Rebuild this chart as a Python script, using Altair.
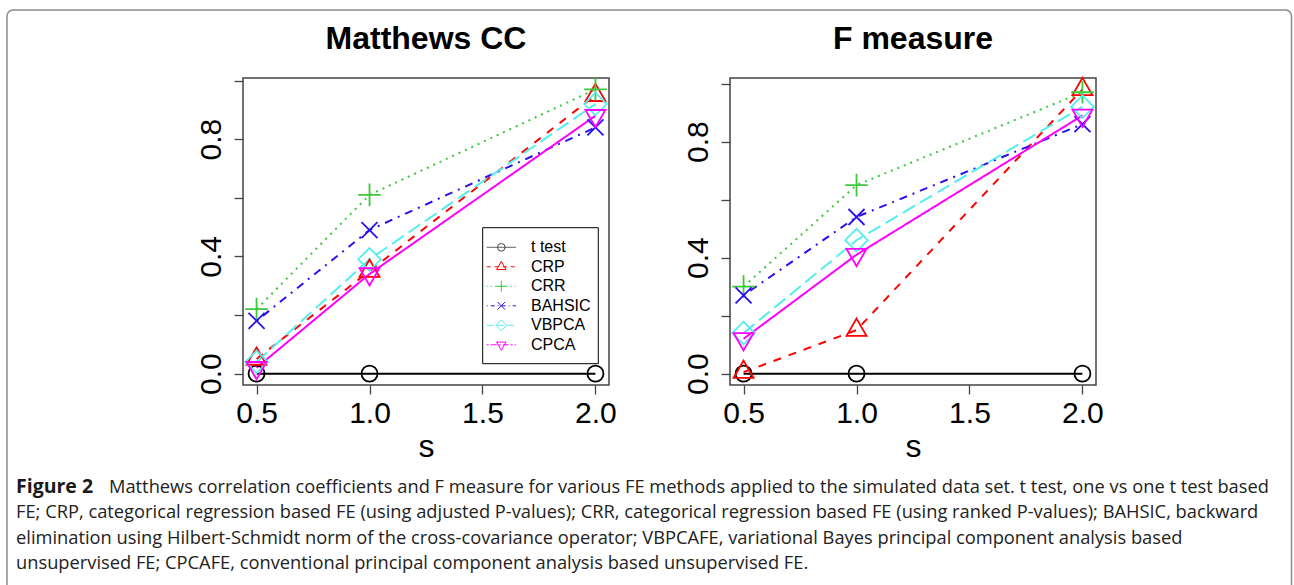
import altair as alt
import pandas as pd

# ---------------- data ----------------
s_vals = [0.5, 1.0, 2.0]
series = ["t test", "CRP", "CRR", "BAHSIC", "VBPCA", "CPCA"]

# Matthews CC panel
mcc_ttest = [0.0, 0.0, 0.0]
mcc_crp = [0.05, 0.35, 0.95]
mcc_crr = [0.22, 0.61, 0.97]
mcc_bahsic = [0.18, 0.49, 0.84]
mcc_vbpca = [0.04, 0.39, 0.92]
mcc_cpca = [0.02, 0.34, 0.88]

# F measure panel
fm_ttest = [0.0, 0.0, 0.0]
fm_crp = [0.005, 0.15, 0.98]
fm_crr = [0.30, 0.65, 0.97]
fm_bahsic = [0.27, 0.54, 0.86]
fm_vbpca = [0.14, 0.46, 0.92]
fm_cpca = [0.12, 0.41, 0.89]

y_ticks = [0.0, 0.2, 0.4, 0.6, 0.8, 1.0]
x_ticks = [0.5, 1.0, 1.5, 2.0]

caption_bold = "Figure 2"
caption_lines = [
    "Matthews correlation coefficients and F measure for various FE methods applied to the simulated data set. t test, one vs one t test based",
    "FE; CRP, categorical regression based FE (using adjusted P-values); CRR, categorical regression based FE (using ranked P-values); BAHSIC, backward",
    "elimination using Hilbert-Schmidt norm of the cross-covariance operator; VBPCAFE, variational Bayes principal component analysis based",
    "unsupervised FE; CPCAFE, conventional principal component analysis based unsupervised FE.",
]

# ---------------- styles ----------------
colors = ["#000000", "#FF0000", "#3CC83C", "#2A10F0", "#55EEEE", "#FF00FF"]
plot_dash = [[1, 0], [8, 8], [2, 5], [2, 6, 8, 6], [14, 6], [1, 0]]
legend_dash = [[1, 0], [4, 4], [1, 3], [1, 3, 4, 3], [7, 3], [2, 2, 6, 2]]
shapes = [
    "circle",
    "M0,-1.44L1.247,0.72L-1.247,0.72Z",
    "M-1.414,0L1.414,0M0,-1.414L0,1.414",
    "M-1,-1L1,1M-1,1L1,-1",
    "M0,-1.414L1.414,0L0,1.414L-1.414,0Z",
    "M0,1.44L1.247,-0.72L-1.247,-0.72Z",
]
FONT = "Liberation Sans"
PW, PH = 366, 307


def make_panel(cols, title, with_legend):
    rows = []
    for name, vals in zip(series, cols):
        for s, v in zip(s_vals, vals):
            rows.append({"series": name, "s": s, "value": v})
    df = pd.DataFrame(rows)
    allv = [v for c in cols for v in c]
    lo, hi = min(allv), max(allv)
    pad = 0.04 * (hi - lo)
    xpad = 0.04 * (max(s_vals) - min(s_vals))

    xs = alt.X(
        "s:Q",
        scale=alt.Scale(domain=[min(s_vals) - xpad, max(s_vals) + xpad], nice=False, zero=False),
        axis=alt.Axis(values=x_ticks, format=".1f", title="s", labelPadding=4,
                      titlePadding=3, titleFontSize=32, titleFontWeight="normal",
                      labelFlush=False, labelOverlap=False),
    )
    ys = alt.Y(
        "value:Q",
        scale=alt.Scale(domain=[lo - pad, hi + pad], nice=False, zero=False),
        axis=alt.Axis(values=y_ticks, title=None,
                      labelExpr="(round(datum.value*10) % 4 == 0) ? format(datum.value, '.1f') : ''",
                      labelAngle=270, labelAlign="center", labelBaseline="alphabetic",
                      labelPadding=14, labelFlush=False, labelOverlap=False),
    )
    color = alt.Color("series:N", scale=alt.Scale(domain=series, range=colors), legend=None)
    dash = alt.StrokeDash("series:N", scale=alt.Scale(domain=series, range=plot_dash), legend=None)
    shape = alt.Shape("series:N", scale=alt.Scale(domain=series, range=shapes), legend=None)

    base = alt.Chart(df)
    lines = base.mark_line(strokeWidth=2).encode(x=xs, y=ys, color=color, strokeDash=dash, detail="series:N")
    pts = base.mark_point(filled=False, size=256, strokeWidth=1.8, opacity=1).encode(
        x=xs, y=ys, color=color, shape=shape)
    layers = [lines, pts]

    if with_legend:
        one = pd.DataFrame({"k": [0]})
        lx0, lx1, ly0, ly1 = 239.7, 355.3, 149.7, 285.7
        layers.append(
            alt.Chart(one).mark_rect(fill="white", stroke="black", strokeWidth=1).encode(
                x=alt.value(lx0), x2=alt.value(lx1), y=alt.value(ly0), y2=alt.value(ly1))
        )
        for i, name in enumerate(series):
            yy = 169.3 + i * 19.5
            rd = pd.DataFrame({"label": [name]})
            layers.append(
                alt.Chart(rd).mark_rule(color="#444444" if i == 0 else colors[i], strokeWidth=1,
                                        strokeDash=legend_dash[i]).encode(
                    x=alt.value(243.7), x2=alt.value(273), y=alt.value(yy))
            )
            layers.append(
                alt.Chart(rd).mark_point(shape=shapes[i], size=58, filled=False,
                                         color="#444444" if i == 0 else colors[i],
                                         strokeWidth=1, opacity=1).encode(
                    x=alt.value(258.3), y=alt.value(yy))
            )
            layers.append(
                alt.Chart(rd).mark_text(align="left", baseline="middle", fontSize=16, font=FONT,
                                        color="black").encode(
                    x=alt.value(288), y=alt.value(yy), text="label:N")
            )

    return alt.layer(*layers).properties(
        width=PW, height=PH,
        title=alt.TitleParams(title, fontSize=32, font=FONT, fontWeight="bold", anchor="middle",
                              frame="group", offset=18, color="black"),
    )


left = make_panel([mcc_ttest, mcc_crp, mcc_crr, mcc_bahsic, mcc_vbpca, mcc_cpca], "Matthews CC", True)
right = make_panel([fm_ttest, fm_crp, fm_crr, fm_bahsic, fm_vbpca, fm_cpca], "F measure", False)

row = alt.hconcat(left, right, spacing=121, bounds="flush")

# ---------------- caption ----------------
one = pd.DataFrame({"k": [0]})
cap_df = pd.DataFrame({"idx": list(range(len(caption_lines))), "text": caption_lines})
frame = alt.Chart(one).mark_rect(filled=False, stroke="#8a8a8a", strokeWidth=1.5, cornerRadius=6).encode(
    x=alt.value(-236), x2=alt.value(1048.5), y=alt.value(-390), y2=alt.value(200))
bold = alt.Chart(one).mark_text(align="left", baseline="alphabetic", fontSize=19.5, font="Open Sans",
                                fontWeight="bold", color="#1a1a1a").encode(
    x=alt.value(-227), y=alt.value(93), text=alt.value(caption_bold))
cap_text = alt.Chart(cap_df).mark_text(align="left", baseline="alphabetic", fontSize=18.3,
                                       font="Open Sans", color="#222222").transform_calculate(
    py="93 + datum.idx * 25.4", px="datum.idx == 0 ? -134 : -227"
).encode(x=alt.X("px:Q", scale=None), y=alt.Y("py:Q", scale=None), text="text:N")

caption = alt.layer(frame, bold, cap_text).properties(
    width=853, height=185, view=alt.ViewBackground(strokeWidth=0))

chart = alt.vconcat(row, caption, spacing=322, bounds="flush").properties(
    autosize=alt.AutoSizeParams(type="none"),
    padding={"left": 243, "top": 78, "right": 1051, "bottom": 507},
).configure(background="white").configure_view(
    stroke="#444444", strokeWidth=1.5
).configure_axis(
    grid=False, domain=False, tickColor="#444444", tickWidth=1.3, tickSize=9,
    labelFont=FONT, labelFontSize=30, labelColor="black", titleFont=FONT, titleColor="black",
)

chart.save("out.html", embed_options={"renderer": "svg", "actions": False})
